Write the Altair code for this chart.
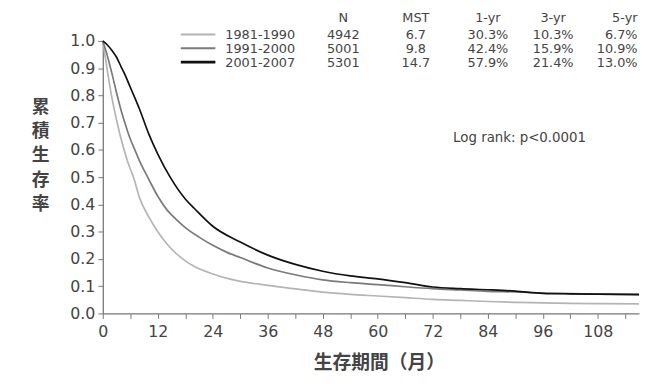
import altair as alt
import pandas as pd

# ---- data ----
periods = ["1981-1990", "1991-2000", "2001-2007"]
line_colors = ["#b4b4b4", "#7a7a7a", "#111111"]
line_widths = [1.7, 1.7, 2.6]

n_patients = ["4942", "5001", "5301"]
mst = ["6.7", "9.8", "14.7"]
surv_1yr = ["30.3%", "42.4%", "57.9%"]
surv_3yr = ["10.3%", "15.9%", "21.4%"]
surv_5yr = ["6.7%", "10.9%", "13.0%"]

months_a = [0, 1, 2, 3, 4, 5, 6, 6.7, 8, 10, 12, 14, 16, 18, 20, 24, 28, 36, 42, 48,
            54, 60, 66, 72, 78, 84, 90, 96, 102, 108, 117]
surv_a = [1.0, 0.89, 0.79, 0.71, 0.64, 0.58, 0.53, 0.5, 0.425, 0.355, 0.30, 0.255, 0.22,
          0.193, 0.172, 0.145, 0.125, 0.103, 0.09, 0.078, 0.07, 0.064, 0.058, 0.052,
          0.048, 0.044, 0.041, 0.039, 0.037, 0.036, 0.035]

months_b = [0, 1, 2, 3, 4, 5, 6, 7, 8, 9.8, 12, 14, 16, 18, 21, 24, 27, 30, 36, 42, 48,
            54, 60, 66, 72, 78, 84, 90, 96, 102, 108, 117]
surv_b = [1.0, 0.945, 0.88, 0.81, 0.745, 0.69, 0.64, 0.6, 0.56, 0.5, 0.43, 0.38, 0.345,
          0.315, 0.28, 0.25, 0.225, 0.205, 0.167, 0.142, 0.123, 0.113, 0.106, 0.098,
          0.091, 0.086, 0.081, 0.079, 0.075, 0.073, 0.071, 0.068]

months_c = [0, 1, 2, 3, 4, 5, 6, 8, 10, 12, 14.7, 18, 20, 24, 30, 36, 42, 48, 54, 60,
            66, 72, 78, 84, 90, 96, 102, 108, 117]
surv_c = [1.0, 0.985, 0.965, 0.94, 0.905, 0.87, 0.83, 0.75, 0.66, 0.585, 0.5, 0.42,
          0.385, 0.32, 0.262, 0.214, 0.18, 0.155, 0.138, 0.127, 0.113, 0.097, 0.091,
          0.087, 0.082, 0.074, 0.072, 0.071, 0.070]

x_ticks = list(range(0, 115, 6))
y_ticks = [round(i / 10, 1) for i in range(11)]
y_title_chars = ["累", "積", "生", "存", "率"]

rows = []
for p, ms, ss in zip(periods, [months_a, months_b, months_c], [surv_a, surv_b, surv_c]):
    for m, s in zip(ms, ss):
        rows.append({"period": p, "month": m, "surv": s})
df = pd.DataFrame(rows)

one = pd.DataFrame({"k": [0]})
TXT = "#444444"
FONT = "DejaVu Sans"
TS = 13

curves = alt.Chart(df).mark_line(interpolate="monotone", clip=False).encode(
    x=alt.X("month:Q",
            scale=alt.Scale(domain=[0, 117], nice=False, zero=False),
            axis=alt.Axis(values=x_ticks, title=None,
                          labelExpr="datum.value % 12 === 0 ? datum.label : ''",
                          labelPadding=5, labelFlush=False)),
    y=alt.Y("surv:Q",
            scale=alt.Scale(domain=[0, 1], nice=False),
            axis=alt.Axis(values=y_ticks, format=".1f", title=None, labelPadding=3)),
    color=alt.Color("period:N", scale=alt.Scale(domain=periods, range=line_colors), legend=None),
    strokeWidth=alt.StrokeWidth("period:N", scale=alt.Scale(domain=periods, range=line_widths),
                                legend=None),
)

layers = [curves]

# y title (vertical stacked characters)
for i, ch in enumerate(y_title_chars):
    layers.append(alt.Chart(one).mark_text(
        text=ch, font="Noto Sans CJK JP", fontSize=18, fontWeight="bold",
        color=TXT, align="center", baseline="middle"
    ).encode(x=alt.value(-63), y=alt.value(68 + i * 24.5)))

# x title
layers.append(alt.Chart(one).mark_text(
    text="生存期間（月）", font="Noto Sans CJK JP", fontSize=19, fontWeight="bold",
    color=TXT, align="center", baseline="middle"
).encode(x=alt.value(280), y=alt.value(326)))

# log rank
layers.append(alt.Chart(one).mark_text(
    text="Log rank: p<0.0001", font=FONT, fontSize=13.5, color=TXT,
    align="center", baseline="middle"
).encode(x=alt.value(422), y=alt.value(98)))

# legend table
row_y = [-6, 8, 22]
head_y = -23.5
cols = [("N", n_patients, 243.5, "center"),
        ("MST", mst, 317, "center"),
        ("1-yr", surv_1yr, 390, "center"),
        ("3-yr", surv_3yr, 456, "center"),
        ("5-yr", surv_5yr, 541.5, "right")]

for i, p in enumerate(periods):
    layers.append(alt.Chart(one).mark_rule(
        color=line_colors[i], strokeWidth=line_widths[i] + 0.3
    ).encode(x=alt.value(79), x2=alt.value(114), y=alt.value(row_y[i] - 0.5)))
    layers.append(alt.Chart(one).mark_text(
        text=p, font=FONT, fontSize=TS, color=TXT, align="left", baseline="middle"
    ).encode(x=alt.value(124), y=alt.value(row_y[i])))

for head, vals, cx, al in cols:
    layers.append(alt.Chart(one).mark_text(
        text=head, font=FONT, fontSize=TS, color=TXT, align=al, baseline="middle"
    ).encode(x=alt.value(cx), y=alt.value(head_y)))
    for i, v in enumerate(vals):
        layers.append(alt.Chart(one).mark_text(
            text=v, font=FONT, fontSize=TS, color=TXT, align=al, baseline="middle"
        ).encode(x=alt.value(cx), y=alt.value(row_y[i])))

chart = alt.layer(*layers).properties(
    width=543, height=276,
    padding={"left": 96, "top": 31, "right": 1, "bottom": 61},
    autosize=alt.AutoSizeParams(type="none"),
    background="white",
).configure_view(stroke=None).configure_axis(
    labelFont=FONT, labelFontSize=16, labelColor=TXT,
    domainColor="#777777", domainWidth=1.3, tickColor="#777777", tickSize=5,
    grid=False,
)

chart.save("out.html", embed_options={"renderer": "svg", "actions": False})
